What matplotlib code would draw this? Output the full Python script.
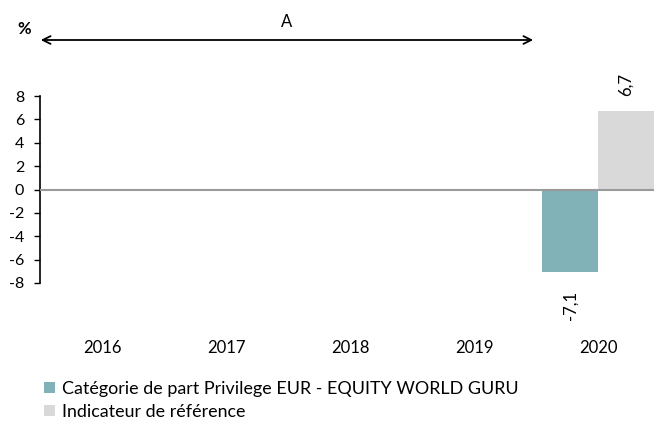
import matplotlib
matplotlib.use("Agg")
import matplotlib.pyplot as plt
import numpy as np

years = ["2016", "2017", "2018", "2019", "2020"]
fund = [np.nan, np.nan, np.nan, np.nan, -7.1]
bench = [np.nan, np.nan, np.nan, np.nan, 6.7]
series_names = ["Catégorie de part Privilege EUR - EQUITY WORLD GURU", "Indicateur de référence"]
yticks = [-8, -6, -4, -2, 0, 2, 4, 6, 8]

plt.rcParams['font.family'] = ['Lato', 'DejaVu Sans']

fig = plt.figure(figsize=(6.54, 4.24), dpi=100)
ax = fig.add_axes([40/654, 1-283/424, 614/654, (283-96)/424])

x = np.arange(len(years))
w = 0.45
c_fund = "#80B2B8"
c_bench = "#D9D9D9"
ax.bar(x - w/2, fund, w, color=c_fund, label=series_names[0], zorder=2)
ax.bar(x + w/2, bench, w, color=c_bench, label=series_names[1], zorder=2)
ax.axhline(0, color="#9a9a9a", lw=1.5, zorder=3)

fs = 12
for i, v in enumerate(fund):
    if not np.isnan(v):
        ax.annotate(f"{v:.1f}".replace(".", ","), (x[i] - w/2, v), xytext=(0, -13),
                    textcoords="offset points", rotation=90, ha="center", va="top", fontsize=fs)
for i, v in enumerate(bench):
    if not np.isnan(v):
        ax.annotate(f"{v:.1f}".replace(".", ","), (x[i] + w/2, v), xytext=(0, 11),
                    textcoords="offset points", rotation=90, ha="center", va="bottom", fontsize=fs)

ax.set_xlim(-0.5, 4.45)
ax.set_ylim(-8, 8)
ax.set_yticks(yticks)
ax.set_yticklabels([str(t) for t in yticks], fontsize=11.5)
ax.set_xticks(x)
ax.set_xticklabels(years, fontsize=fs)
ax.tick_params(axis="x", length=0, pad=41)
ax.tick_params(axis="y", length=4.3, width=1, color="black", pad=7)
for s in ["top", "right", "bottom"]:
    ax.spines[s].set_visible(False)
ax.spines["left"].set_linewidth(1.2)

# arrow and labels
fig.patches.append(matplotlib.patches.FancyArrowPatch((38/654, 1-40/424), (536/654, 1-40/424),
                   transform=fig.transFigure, arrowstyle="<->", mutation_scale=14, lw=1.3, color="black"))
fig.text(287/654, 1-22/424, "A", ha="center", va="center", fontsize=fs)
fig.text(24/654, 1-29/424, "%", ha="center", va="center", fontsize=12, fontweight="bold")

leg = fig.legend(loc="upper left", bbox_to_anchor=(44/654, 1-381/424), frameon=False,
                 fontsize=12.9, handlelength=0.62, handleheight=0.62, handletextpad=0.4,
                 labelspacing=0.38, borderaxespad=0, borderpad=0)

fig.savefig("out.png", dpi=100)
